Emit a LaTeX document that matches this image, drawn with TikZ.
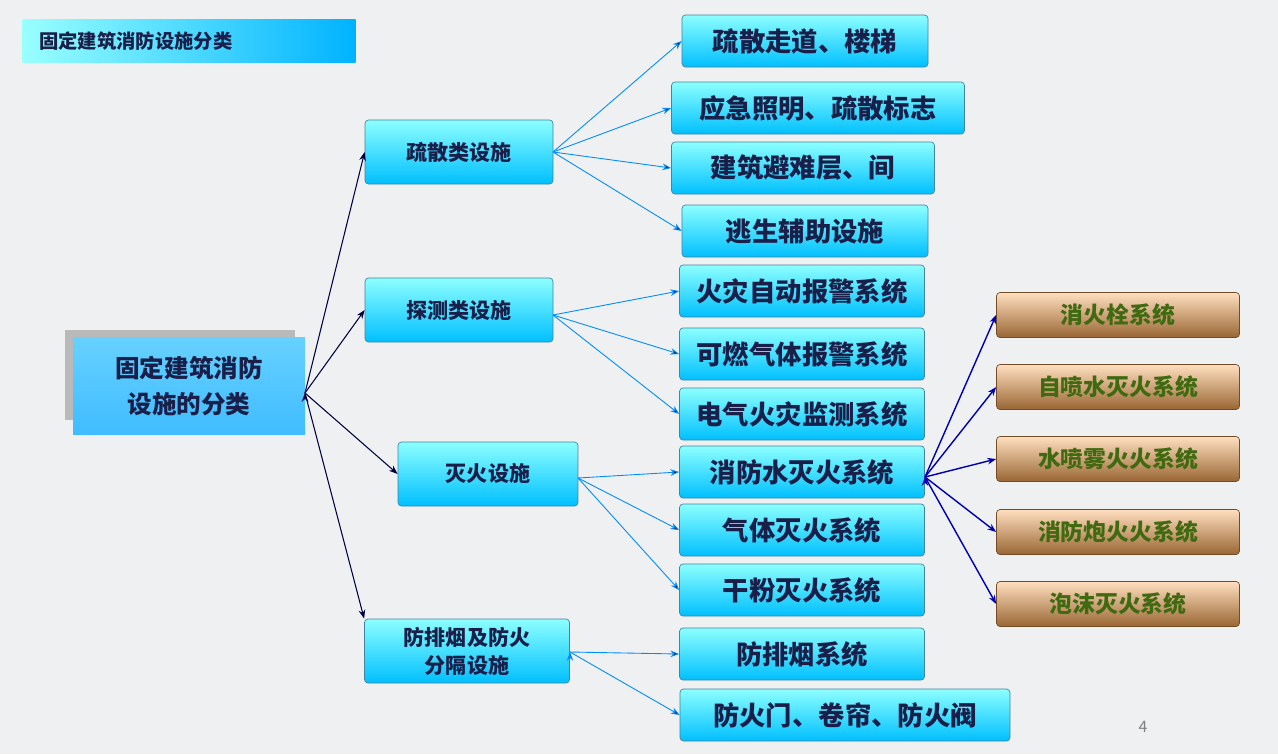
\documentclass[tikz,border=0pt]{standalone}
\usepackage{fontspec}
\setmainfont{Noto Sans CJK SC}
\usetikzlibrary{arrows.meta}
\definecolor{bgc}{HTML}{EEF0F2}
\definecolor{ink}{HTML}{1A1F4A}
\definecolor{olive}{HTML}{3F6A10}
\tikzset{every picture/.style={line width=0.75pt}}

\begin{document}
\begin{tikzpicture}[x=0.02cm,y=-0.02cm,
    cyanbox/.style={minimum height=52*0.02cm, rounded corners=2pt, top color=cyan!45!white, bottom color=cyan!75!blue, draw=cyan!60!black, line width=0.4pt, text=ink, font=\fontsize{15}{17}\selectfont\bfseries},
    midbox/.style={cyanbox, minimum height=64*0.02cm, font=\fontsize{12}{15}\selectfont\bfseries},
    brownbox/.style={minimum width=243*0.02cm, minimum height=45*0.02cm, rounded corners=2pt, top color=orange!25!white, bottom color=brown!80!black, draw=brown!60!black, line width=0.4pt, text=olive, font=\fontsize{13}{15}\selectfont\bfseries},
    rootline/.style={-{Stealth[length=5pt]}, draw=blue!25!black, line width=0.6pt},
    subline/.style={-{Stealth[length=5pt]}, draw=blue!45!cyan, line width=0.5pt},
    fireline/.style={-{Stealth[length=5pt]}, draw=blue!70!black, line width=0.8pt}]
    \fill[bgc] (0,0) rectangle (1278,754);
    \useasboundingbox (0,0) rectangle (1278,754);
    % title
    \node[anchor=west, minimum width=333*0.02cm, minimum height=43*0.02cm, left color=cyan!40!white, right color=cyan!70!blue, text=ink, font=\fontsize{11}{13}\selectfont\bfseries, text width=300*0.02cm] (title) at (22,41) {固定建筑消防设施分类};
    % root
    \fill[gray!55] (65,330) rectangle (295,420);
    \node[minimum width=232*0.02cm, minimum height=97*0.02cm, top color=blue!30!cyan!60!white, bottom color=blue!35!cyan!75!white, text=ink, align=center, font=\fontsize{14}{20}\selectfont\bfseries] (root) at (189,386) {固定建筑消防\\设施的分类};
    % first level
    \node[midbox, minimum width=188*0.02cm] (evac) at (459,152) {疏散类设施};
    \node[midbox, minimum width=188*0.02cm] (detect) at (459,310) {探测类设施};
    \node[midbox, minimum width=180*0.02cm] (fight) at (488,474) {灭火设施};
    \node[midbox, minimum width=205*0.02cm, align=center, font=\fontsize{12}{16}\selectfont\bfseries] (smoke) at (467,651) {防排烟及防火\\分隔设施};
    % second level
    \node[cyanbox, minimum width=246*0.02cm] (e1) at (805,41) {疏散走道、楼梯};
    \node[cyanbox, minimum width=293*0.02cm] (e2) at (818,108) {应急照明、疏散标志};
    \node[cyanbox, minimum width=263*0.02cm] (e3) at (803,168) {建筑避难层、间};
    \node[cyanbox, minimum width=246*0.02cm] (e4) at (805,231) {逃生辅助设施};
    \node[cyanbox, minimum width=245*0.02cm] (d1) at (802,291) {火灾自动报警系统};
    \node[cyanbox, minimum width=245*0.02cm] (d2) at (802,354) {可燃气体报警系统};
    \node[cyanbox, minimum width=245*0.02cm] (d3) at (802,414) {电气火灾监测系统};
    \node[cyanbox, minimum width=245*0.02cm] (f1) at (802,472) {消防水灭火系统};
    \node[cyanbox, minimum width=245*0.02cm] (f2) at (802,530) {气体灭火系统};
    \node[cyanbox, minimum width=245*0.02cm] (f3) at (802,590) {干粉灭火系统};
    \node[cyanbox, minimum width=245*0.02cm] (s1) at (802,654) {防排烟系统};
    \node[cyanbox, minimum width=330*0.02cm] (s2) at (845,715) {防火门、卷帘、防火阀};
    % third level
    \node[brownbox] (w1) at (1118,315) {消火栓系统};
    \node[brownbox] (w2) at (1118,387) {自喷水灭火系统};
    \node[brownbox] (w3) at (1118,459) {水喷雾火火系统};
    \node[brownbox] (w4) at (1118,532) {消防炮火火系统};
    \node[brownbox] (w5) at (1118,604) {泡沫灭火系统};
    \node[text=gray, font=\small] (page) at (1143,727) {4};
    \coordinate (r) at (305,393);
    \coordinate (ev) at (553,152);
    \coordinate (de) at (553,315);
    \coordinate (fi) at (578,478);
    \coordinate (sm) at (570,652);
    \coordinate (wf) at (925,477);
    \draw[rootline]
        (r) edge (evac.west)
        (r) edge (detect.west)
        (r) edge (fight.west)
        (r) edge (smoke.north west);
    \draw[subline]
        (ev) edge (e1.west)
        (ev) edge (e2.west)
        (ev) edge (e3.west)
        (ev) edge (e4.west)
        (de) edge (d1.west)
        (de) edge (d2.west)
        (de) edge (d3.west)
        (fi) edge (f1.west)
        (fi) edge (f2.west)
        (fi) edge (f3.west)
        (sm) edge (s1.west)
        (sm) edge (s2.west);
    \draw[fireline]
        (wf) edge (w1.west)
        (wf) edge (w2.west)
        (wf) edge (w3.west)
        (wf) edge (w4.west)
        (wf) edge (w5.west);
\end{tikzpicture}
\end{document}
